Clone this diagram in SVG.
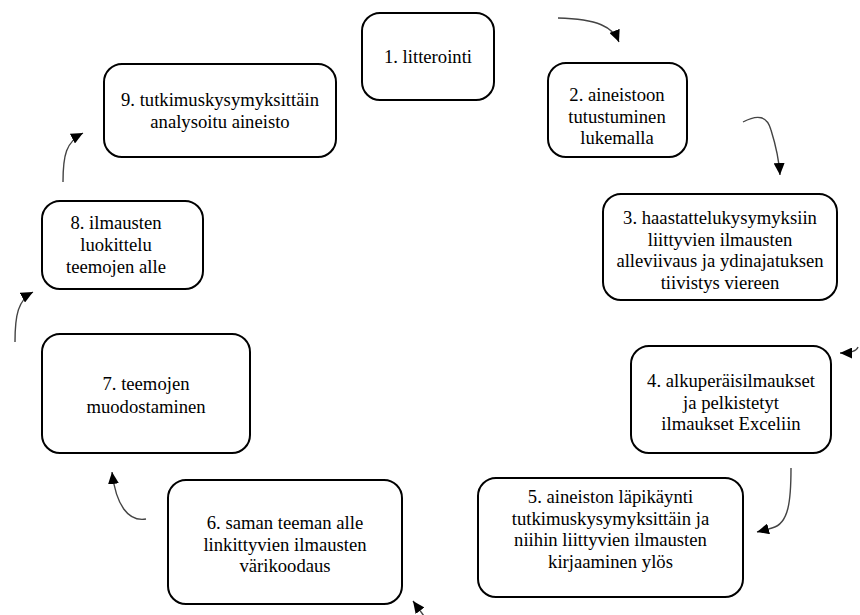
<svg xmlns="http://www.w3.org/2000/svg" width="860" height="615" viewBox="0 0 860 615" font-family="Liberation Serif, serif" font-size="18.67">
<style>
.box{fill:#fff;stroke:#000;stroke-width:2}
text{fill:#000;text-anchor:middle}
.c{fill:none;stroke:#444;stroke-width:1.4}
</style>
<defs>
<marker id="ah" markerUnits="userSpaceOnUse" markerWidth="13" markerHeight="11" refX="12" refY="5.5" orient="auto">
<path d="M0,0 L12,5.5 L0,11 z" fill="#000"/>
</marker>
</defs>
<rect width="860" height="615" fill="#fff"/>
<g id="n1"><rect class="box" x="362" y="13" width="132" height="87" rx="18"/><text x="428" y="63">1. litterointi</text></g>
<g id="n2"><rect class="box" x="548" y="63" width="139" height="94" rx="18"/><text x="617" y="101">2. aineistoon</text><text x="617" y="122.5">tutustuminen</text><text x="617" y="144">lukemalla</text></g>
<g id="n3"><rect class="box" x="603" y="194" width="234" height="106" rx="18"/><text x="720" y="224">3. haastattelukysymyksiin</text><text x="720" y="245.5">liittyvien ilmausten</text><text x="720" y="267">alleviivaus ja ydinajatuksen</text><text x="720" y="288.5">tiivistys viereen</text></g>
<g id="n4"><rect class="box" x="631" y="346" width="200" height="107" rx="18"/><text x="731" y="387">4. alkuperäisilmaukset</text><text x="731" y="408.5">ja pelkistetyt</text><text x="731" y="430">ilmaukset Exceliin</text></g>
<g id="n5"><rect class="box" x="478" y="478" width="265" height="119" rx="18"/><text x="610.5" y="503">5. aineiston läpikäynti</text><text x="610.5" y="524.5">tutkimuskysymyksittäin ja</text><text x="610.5" y="546">niihin liittyvien ilmausten</text><text x="610.5" y="567.5">kirjaaminen ylös</text></g>
<g id="n6"><rect class="box" x="168" y="480" width="234" height="124" rx="18"/><text x="285" y="529">6. saman teeman alle</text><text x="285" y="550.5">linkittyvien ilmausten</text><text x="285" y="572">värikoodaus</text></g>
<g id="n7"><rect class="box" x="42" y="334" width="208" height="119" rx="18"/><text x="146" y="390">7. teemojen</text><text x="146" y="412.5">muodostaminen</text></g>
<g id="n8"><rect class="box" x="42" y="201" width="161" height="88" rx="18"/><text x="116" y="229">8. ilmausten</text><text x="116" y="251">luokittelu</text><text x="116" y="273">teemojen alle</text></g>
<g id="n9"><rect class="box" x="104" y="64" width="232" height="93" rx="18"/><text x="220" y="106">9. tutkimuskysymyksittäin</text><text x="220" y="128">analysoitu aineisto</text></g>
<g id="connectors">
<path class="c" marker-end="url(#ah)" d="M558,18 C598,19 613,27 619,42"/>
<path class="c" marker-end="url(#ah)" d="M743,122 C758,114 767,116 771,130 C776,146 779,160 780,175"/>
<path class="c" marker-end="url(#ah)" d="M858,347 Q856,353 840,353"/>
<path class="c" marker-end="url(#ah)" d="M791,468 C791,500 789,524 772,528 L757,532"/>
<path class="c" marker-end="url(#ah)" d="M424,616 L413,601"/>
<path class="c" marker-end="url(#ah)" d="M146,519 C128,522 116,505 112,472"/>
<path class="c" marker-end="url(#ah)" d="M15,342 C15,315 18,300 33,292"/>
<path class="c" marker-end="url(#ah)" d="M63,182 C63,155 66,142 83,133"/>
</g>
</svg>
